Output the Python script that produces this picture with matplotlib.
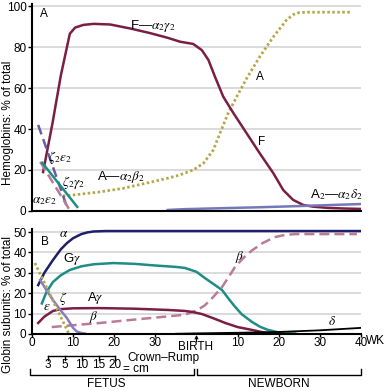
import matplotlib
matplotlib.use("Agg")
import matplotlib.pyplot as plt
from matplotlib.transforms import blended_transform_factory

plt.rcParams['font.family'] = ['Liberation Sans', 'DejaVu Sans']
plt.rcParams['mathtext.fontset'] = 'stix'
FS = 8.5
GS = 9.5  # size for labels containing Greek letters

# ---------------- data: panel A (hemoglobins, % of total) ----------------
# x in weeks: 0-40 fetal age, 40-80 = newborn weeks 0-40
F_x = [2.7, 5, 7, 9.2, 10.5, 12.5, 15, 19, 24, 28.7, 33, 36, 39.2, 41.3, 42.9, 44.5, 46.5, 49, 52.2, 55.4, 58.7, 61.1, 63.5, 66, 68.4, 72, 76, 80]
F_y = [19, 43, 66, 86.5, 89.5, 90.8, 91.3, 91, 89, 86.8, 84.5, 82.6, 81.5, 78.5, 73.7, 65.5, 55.8, 47.7, 37.9, 28.1, 18.4, 10.2, 5.4, 2.9, 2.1, 1.5, 1.2, 1]
A_x = [7.5, 10, 13, 16.5, 22, 28.7, 33, 36, 39.2, 41.7, 44.1, 45.7, 47.7, 49.8, 52.2, 55.4, 58.7, 61.9, 63.5, 65, 67, 72, 77.4]
A_y = [7.3, 7.8, 8.5, 9.3, 11, 14, 16, 17.6, 20, 23.3, 29.8, 37.9, 47.7, 55.8, 64.7, 75.3, 85, 93.2, 95.8, 96.8, 97, 97, 97]
A2_x = [33, 37.2, 45, 55, 65, 80]
A2_y = [0.5, 0.9, 1.3, 1.8, 2.4, 3.4]
Z2E2_x = [1.5, 8.5]
Z2E2_y = [42, 2]
A2E2_x = [2, 9]
A2E2_y = [24, 1]
Z2G2_x = [2.5, 11]
Z2G2_y = [23.5, 2]

# ---------------- data: panel B (globin subunits, % of total) ----------------
alpha_x = [1.5, 3, 5, 7, 8.5, 10, 12, 13.4, 15, 18, 80]
alpha_y = [24, 30, 36, 41.5, 44.6, 47, 49, 49.8, 50.3, 50.5, 50.5]
Gg_x = [2.4, 3.5, 5.1, 7, 9.2, 12, 15, 19.8, 25, 30, 35, 37.2, 40, 42, 44, 46.2, 48, 49.4, 51, 53.5, 55.5, 57.4, 60.3, 64]
Gg_y = [15, 20.5, 25.5, 28.8, 31.4, 33.2, 34.2, 34.8, 34.4, 33.6, 32.9, 32.4, 30.5, 27.5, 24.7, 21.6, 16.8, 13.3, 9.7, 5.9, 3.5, 2, 0.6, 0.2]
Ag_x = [1.5, 3, 5.1, 7, 10, 16.5, 25, 33, 37.2, 39, 41.3, 44, 47, 50, 53.5, 56.7, 60]
Ag_y = [5.4, 8.5, 11.3, 12.2, 12.6, 12.7, 12.4, 11.8, 11.3, 10.8, 9.8, 7.8, 5.4, 3.4, 2, 0.6, 0.2]
beta_x = [4.8, 10, 16.5, 22, 28.7, 34, 37.2, 40, 42, 44, 46.2, 48, 49.4, 51.5, 53.5, 56, 59, 61.5, 64, 70, 79]
beta_y = [3.4, 4.3, 5.4, 6.5, 7.8, 8.8, 9.5, 11.5, 14, 18, 23, 28.5, 33, 37.5, 41, 44.5, 47.5, 48.6, 49, 49, 49]
delta_x = [35, 40, 50, 60, 70, 80]
delta_y = [0.1, 0.3, 0.6, 1.0, 1.8, 3.0]
zeta_x = [2, 3.5, 5.1, 6.8, 8.5, 9.2, 10, 10.9, 12, 12.9]
zeta_y = [26.5, 21.5, 16.7, 12, 7.8, 5.5, 3, 1.2, 0.5, 0.2]
eps_x = [0.7, 9.0]
eps_y = [34.8, 0]

# ticks
A_yticks = [0, 20, 40, 60, 80, 100]
B_yticks = [0, 10, 20, 30, 40, 50]
B_xticks = [0, 10, 20, 30, 50, 60, 70, 80]
B_xticklabels = ['0', '10', '20', '30', '10', '20', '30', '40']
CR_weeks = [3.9, 8.0, 12.2, 16.2, 20.2]
CR_labels = ['3', '5', '10', '15', '20']

# colours
maroon = '#7a1f43'
teal = '#1f8c86'
navy = '#20206a'
pink = '#b87c98'
purple = '#6a5aa0'
lavender = '#8a7cc0'
gold = '#b5a84a'
a2col = '#7478b8'
grid = '#d4d4d4'

fig = plt.figure(figsize=(3.85, 3.91), dpi=100)
axA = fig.add_axes([0.0831, 0.4604, 0.8545, 0.5294])
axB = fig.add_axes([0.0831, 0.1458, 0.8545, 0.2685])

for ax in (axA, axB):
    ax.set_xlim(0, 80)
    for s in ('top', 'right'):
        ax.spines[s].set_visible(False)
    ax.spines['left'].set_linewidth(1.5)
    ax.spines['bottom'].set_linewidth(1.5)
    ax.tick_params(axis='y', length=3, width=1, pad=1, labelsize=FS)
    ax.set_axisbelow(True)

axA.set_ylim(0, 101)
axA.set_yticks(A_yticks)
axA.tick_params(axis='x', bottom=False, labelbottom=False)
for v in A_yticks[1:]:
    axA.axhline(v, color=grid, lw=1.2, zorder=0)

axB.set_ylim(0, 51.5)
axB.set_yticks(B_yticks)
axB.set_xticks(B_xticks)
axB.set_xticklabels(B_xticklabels)
axB.tick_params(axis='x', length=2, width=1, pad=0.5, labelsize=FS)
for v in B_yticks[1:]:
    axB.axhline(v, color=grid, lw=1.2, zorder=0)

lw = 1.8
# panel A curves
axA.plot(A_x, A_y, color=gold, lw=2.0, ls=(0, (0.9, 0.9)))
axA.plot(F_x, F_y, color=maroon, lw=lw)
axA.plot(A2_x, A2_y, color=a2col, lw=lw)
axA.plot(Z2E2_x, Z2E2_y, color=purple, lw=lw, ls=(0, (4, 2)))
axA.plot(A2E2_x, A2E2_y, color=pink, lw=lw, ls=(0, (4, 2)))
axA.plot(Z2G2_x, Z2G2_y, color=teal, lw=lw)

axA.text(2, 96, 'A', fontsize=FS, va='center')
axA.text(29.4, 90.5, r'F—$\alpha_2\gamma_2$', fontsize=GS, ha='center', va='center')
axA.text(55.5, 65.5, 'A', fontsize=FS, ha='center', va='center')
axA.text(55.8, 33.8, 'F', fontsize=FS, ha='center', va='center')
axA.text(21.6, 16.6, r'A—$\alpha_2\beta_2$', fontsize=GS, ha='center', va='center')
axA.text(74, 8, r'A$_2$—$\alpha_2\delta_2$', fontsize=GS, ha='center', va='center')
axA.text(6.8, 26, r'$\zeta_2\epsilon_2$', fontsize=GS, ha='center', va='center')
axA.text(10.2, 13.7, r'$\zeta_2\gamma_2$', fontsize=GS, ha='center', va='center')
axA.text(3.0, 5, r'$\alpha_2\epsilon_2$', fontsize=GS, ha='center', va='center')

# panel B curves
axB.plot(beta_x, beta_y, color=pink, lw=lw, ls=(0, (4, 2)))
axB.plot(alpha_x, alpha_y, color=navy, lw=lw)
axB.plot(Gg_x, Gg_y, color=teal, lw=lw)
axB.plot(Ag_x, Ag_y, color=maroon, lw=lw)
axB.plot(delta_x, delta_y, color='black', lw=1.3)
axB.plot(zeta_x, zeta_y, color=lavender, lw=lw)
axB.plot(eps_x, eps_y, color=gold, lw=2.0, ls=(0, (0.9, 0.9)))

axB.text(2.3, 45, 'B', fontsize=FS, va='center')
axB.text(7.6, 49, r'$\alpha$', fontsize=GS, ha='center', va='center')
axB.text(9.7, 37, r'G$\gamma$', fontsize=GS, ha='center', va='center')
axB.text(15.3, 17.6, r'A$\gamma$', fontsize=GS, ha='center', va='center')
axB.text(14.9, 8.3, r'$\beta$', fontsize=GS, ha='center', va='center')
axB.text(50.6, 37.8, r'$\beta$', fontsize=GS, ha='center', va='center')
axB.text(7.5, 17.6, r'$\zeta$', fontsize=GS, ha='center', va='center')
axB.text(3.6, 13.2, r'$\epsilon$', fontsize=GS, ha='center', va='center')
axB.text(73, 6, r'$\delta$', fontsize=GS, ha='center', va='center')

# axis labels
fig.text(0.02, 0.687, 'Hemoglobins: % of total', rotation=90, fontsize=FS, ha='center', va='center')
fig.text(0.02, 0.22, 'Globin subunits: % of total', rotation=90, fontsize=FS, ha='center', va='center')
fig.text(366 / 385, 1 - 341 / 391, 'WK', fontsize=FS, ha='left', va='center')

# birth marker, crown-rump scale and fetus/newborn brackets
tr = blended_transform_factory(axB.transData, fig.transFigure)
axB.annotate('', xy=(40, 1 - 335 / 391), xytext=(40, 1 - 342 / 391), xycoords=tr, textcoords=tr,
             arrowprops=dict(arrowstyle='->', lw=0.8, color='black', shrinkA=0, shrinkB=0,
                             mutation_scale=5), annotation_clip=False)
fig.text(196 / 385, 1 - 347 / 391, 'BIRTH', fontsize=FS, ha='center', va='center')

yl = 1 - 356 / 391
yt = 1 - 360 / 391
axB.plot([CR_weeks[0], CR_weeks[-1]], [yl, yl], color='black', lw=1, transform=tr, clip_on=False)
for w, lab in zip(CR_weeks, CR_labels):
    axB.plot([w, w], [yl, yt], color='black', lw=1, transform=tr, clip_on=False)
    axB.text(w, 1 - 365 / 391, lab, fontsize=FS, ha='center', va='center', transform=tr)
axB.text(23.1, 1 - 358.5 / 391, 'Crown–Rump', fontsize=FS, ha='left', va='center', transform=tr)
axB.text(22.1, 1 - 369.5 / 391, '= cm', fontsize=FS, ha='left', va='center', transform=tr)

yb = 1 - 375 / 391
ye = 1 - 369 / 391
for x0, x1, lab in [(-0.5, 39.4, 'FETUS'), (40.1, 80, 'NEWBORN')]:
    axB.plot([x0, x0, x1, x1], [ye, yb, yb, ye], color='black', lw=1, transform=tr, clip_on=False)
    axB.text((x0 + x1) / 2 - 1.5 if lab == 'FETUS' else (x0 + x1) / 2, 1 - 384 / 391, lab,
             fontsize=FS, ha='center', va='center', transform=tr)

fig.savefig('out.png', dpi=100)
